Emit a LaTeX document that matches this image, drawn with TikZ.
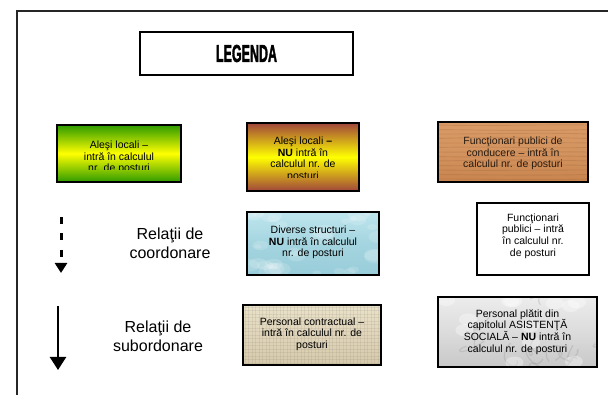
\documentclass[tikz,border=0pt]{standalone}
\usepackage{fontspec}
\setmainfont{Liberation Sans}
\newfontfamily\legfont{Liberation Sans}[BoldFeatures={FakeBold=2.5}]
\usepackage{graphicx}
\usetikzlibrary{arrows.meta}
\definecolor{gr}{HTML}{2E9A00}
\definecolor{ye}{HTML}{FFFF00}
\definecolor{brn}{HTML}{A0463A}
\definecolor{woodA}{HTML}{D99A66}
\definecolor{woodB}{HTML}{C8844E}
\definecolor{aquaA}{HTML}{BFE6EE}
\definecolor{aquaB}{HTML}{98CDD9}
\definecolor{canA}{HTML}{EAE1CA}
\definecolor{canB}{HTML}{D6C9AB}
\definecolor{marA}{HTML}{ECECEC}
\definecolor{marB}{HTML}{C8C8C8}
\begin{document}
\begin{tikzpicture}[x=1pt,y=-1pt,
  box/.style={draw=black, line width=1.6pt, inner sep=0pt, outer sep=0pt, anchor=north west},
  rim/.style={draw=black, line width=1.6pt},
  txt/.style={align=center, font=\fontsize{10.5}{11.7}\selectfont, inner sep=0pt},
  rel/.style={align=center, font=\fontsize{16}{19}\selectfont, inner sep=0pt}]
\clip (0,0) rectangle (608,395);
\fill[white] (0,0) rectangle (608,395);
\draw[line width=2pt, black!85] (17,11) rectangle (640,420);
\pgfmathsetseed{17}
% title
\node[box, minimum width=213pt, minimum height=43pt] (leg) at (140,32) {};
\node[inner sep=0pt] (legt) at (leg.center) {\resizebox{61pt}{17pt}{\legfont\bfseries LEGENDA}};
% row 1
\node[box, minimum width=124pt, minimum height=57pt, top color=gr, bottom color=gr, middle color=ye] (b1) at (57,125) {};
\begin{scope}
\clip (59,127) rectangle (179,170);
\node[txt] (b1t) at (119,157.3) {Aleşi locali –\\intră în calculul\\nr. de posturi};
\end{scope}
\node[box, minimum width=112pt, minimum height=68pt, top color=brn, bottom color=brn, middle color=ye] (b2) at (247,123) {};
\begin{scope}
\clip (249,125) rectangle (357,178);
\node[txt] (b2t) at (303,159.4) {Aleşi locali \textbf{–}\\\textbf{NU} intră în\\calculul nr. de\\posturi};
\end{scope}
\node[box, minimum width=150pt, minimum height=60pt, top color=woodA, bottom color=woodB, middle color=woodA!70!woodB] (b3) at (438,122) {};
\begin{scope}
\clip (b3.north west) rectangle (b3.south east);
\foreach \yy in {125,129.5,...,182}{
  \pgfmathsetmacro\da{4*rnd-2}
  \pgfmathsetmacro\db{4*rnd-2}
  \draw[woodB!70!black, opacity=0.22, line width=0.9pt] (438,\yy) .. controls (485,\yy+\da) and (540,\yy+\db) .. (588,\yy);
}
\end{scope}
\draw[rim] (b3.north west) rectangle (b3.south east);
\node[txt, text=black!80!woodB] (b3t) at (513,153.5) {Funcţionari publici de\\conducere – intră în\\calculul nr. de posturi};
% row 2
\coordinate (d1) at (61,217);
\coordinate (d2) at (61,273);
\draw[line width=3pt, dash pattern=on 7pt off 9.5pt, -{Triangle[length=10pt,width=12pt]}] (d1) -- (d2);
\node[rel] (r1) at (170,243.5) {Relaţii de\\coordonare};
\node[box, minimum width=132pt, minimum height=63pt, top color=aquaA, bottom color=aquaB, middle color=aquaB!70!aquaA] (b4) at (247,212) {};
\begin{scope}
\clip (b4.north west) rectangle (b4.south east);
\foreach \i in {1,...,34}{
  \pgfmathsetmacro\rx{247+132*rnd}
  \pgfmathsetmacro\ry{212+63*rnd}
  \pgfmathsetmacro\rr{2+5*rnd}
  \fill[white, opacity=0.16] (\rx,\ry) ellipse [x radius=1.7*\rr, y radius=\rr];
}
\end{scope}
\draw[rim] (b4.north west) rectangle (b4.south east);
\node[txt] (b4t) at (313,242.5) {Diverse structuri –\\\textbf{NU} intră în calculul\\nr. de posturi};
\node[box, minimum width=112pt, minimum height=72pt, fill=white] (b5) at (477,203) {};
\node[txt] (b5t) at (533,236) {Funcţionari\\publici – intră\\în calculul nr.\\de posturi};
% row 3
\coordinate (s1) at (58,306);
\coordinate (s2) at (58,370);
\draw[line width=2.4pt, -{Triangle[length=13pt,width=16pt]}] (s1) -- (s2);
\node[rel] (r2) at (158,336) {Relaţii de\\subordonare};
\node[box, minimum width=138pt, minimum height=60pt, top color=canA, bottom color=canB, middle color=canB!50!canA] (b6) at (243,305) {};
\begin{scope}
\clip (b6.north west) rectangle (b6.south east);
\foreach \xx in {245,248.5,...,381}
  \draw[canB!60!black, opacity=0.13, line width=0.7pt] (\xx,305) -- (\xx,365);
\foreach \yy in {307,310.5,...,365}
  \draw[canB!60!black, opacity=0.13, line width=0.7pt] (243,\yy) -- (381,\yy);
\end{scope}
\draw[rim] (b6.north west) rectangle (b6.south east);
\node[txt] (b6t) at (312,334) {Personal contractual –\\intră în calculul nr. de\\posturi};
\node[box, minimum width=159pt, minimum height=70pt, top color=marA, bottom color=marB, middle color=marA!55!marB] (b7) at (438,297) {};
\begin{scope}
\clip (b7.north west) rectangle (b7.south east);
\foreach \i in {1,...,14}{
  \pgfmathsetmacro\ax{438+159*rnd}
  \pgfmathsetmacro\ay{297+70*rnd}
  \pgfmathsetmacro\bx{\ax+40*rnd-20}
  \pgfmathsetmacro\by{\ay+30*rnd-15}
  \pgfmathsetmacro\cx{\ax+60*rnd-30}
  \pgfmathsetmacro\cy{\ay+40*rnd-20}
  \draw[gray, opacity=0.22, line width=1.2pt] (\ax,\ay) .. controls (\bx,\by) and (\cx,\cy) .. (\ax+50*rnd-25,\ay+40*rnd-20);
}
\foreach \i in {1,...,12}{
  \pgfmathsetmacro\rx{438+159*rnd}
  \pgfmathsetmacro\ry{297+70*rnd}
  \fill[white, opacity=0.35] (\rx,\ry) ellipse [x radius=9, y radius=6];
}
\end{scope}
\draw[rim] (b7.north west) rectangle (b7.south east);
\node[txt] (b7t) at (517.5,332) {Personal plătit din\\capitolul ASISTENŢĂ\\SOCIALĂ – \textbf{NU} intră în\\calculul nr. de posturi};
\end{tikzpicture}
\end{document}
